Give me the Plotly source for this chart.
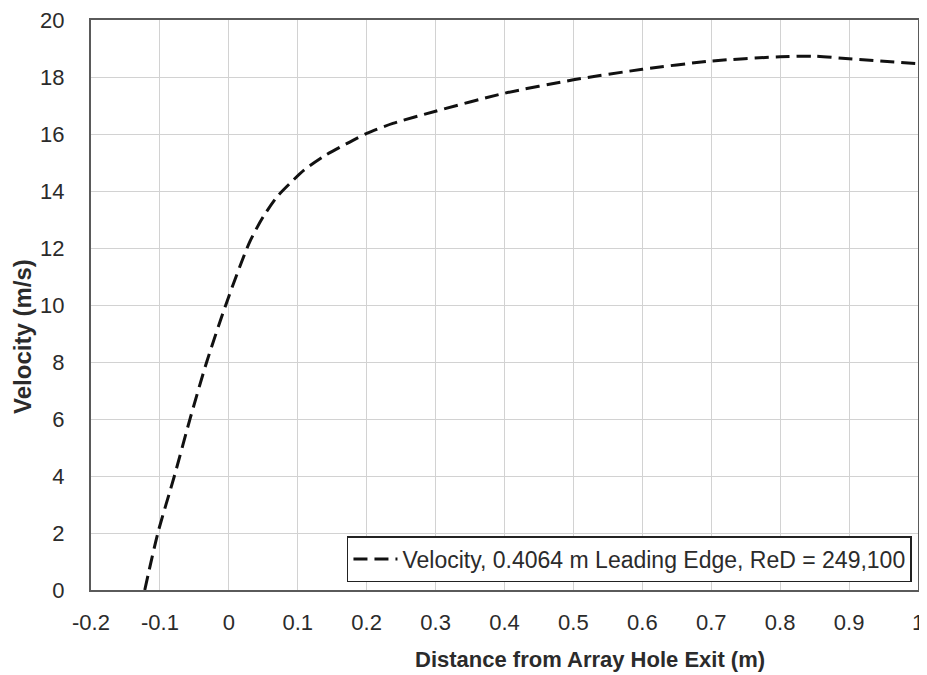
import plotly.graph_objects as go

# Data
distance_m = [-0.122, -0.103, -0.079, -0.056, -0.032, -0.003, 0.03, 0.05, 0.07,
              0.09, 0.11, 0.14, 0.17, 0.20, 0.238, 0.30, 0.40, 0.50,
              0.60, 0.70, 0.80, 0.85, 0.90, 1.00]
velocity_ms = [0.0, 2.0, 4.0, 6.03, 8.01, 10.1, 12.2, 13.1, 13.8,
               14.3, 14.75, 15.25, 15.65, 16.02, 16.37, 16.8, 17.43, 17.9,
               18.27, 18.56, 18.71, 18.73, 18.64, 18.47]
series_name = "Velocity, 0.4064 m Leading Edge, ReD = 249,100"
x_title = "Distance from Array Hole Exit (m)"
y_title = "Velocity (m/s)"

x_ticks = [-0.2, -0.1, 0, 0.1, 0.2, 0.3, 0.4, 0.5, 0.6, 0.7, 0.8, 0.9, 1]
x_labels = ["-0.2", "-0.1", "0", "0.1", "0.2", "0.3", "0.4", "0.5", "0.6", "0.7", "0.8", "0.9", "1"]
y_ticks = [0, 2, 4, 6, 8, 10, 12, 14, 16, 18, 20]

FONT = "Liberation Sans, Arial, sans-serif"
TXT = "#2b2b2b"

fig = go.Figure()
fig.add_trace(go.Scatter(
    x=distance_m, y=velocity_ms, mode="lines", name=series_name,
    line=dict(color="#111111", width=3, dash="14px,7px", shape="spline", smoothing=0.7),
))

fig.update_layout(
    width=927, height=675,
    margin=dict(l=83, r=17, t=12, b=93, autoexpand=False),
    paper_bgcolor="white", plot_bgcolor="white",
    font=dict(family=FONT, size=22, color=TXT),
    showlegend=True,
    legend=dict(
        x=0.9927, y=0.014, xanchor="right", yanchor="bottom",
        bgcolor="white", bordercolor="#222222", borderwidth=1.5,
        font=dict(family=FONT, size=23, color=TXT),
        itemwidth=44,
    ),
    xaxis=dict(
        range=[-0.2, 1], tickmode="array", tickvals=x_ticks, ticktext=x_labels,
        showgrid=True, gridcolor="#d2d2d2", gridwidth=1,
        showline=True, linecolor="#5a5a5a", linewidth=2, mirror=True,
        ticks="", zeroline=False, automargin=False, ticklabelstandoff=12,
        ticklabeloverflow="allow",
        tickfont=dict(family=FONT, size=22, color=TXT),
    ),
    yaxis=dict(
        range=[0, 20], tickmode="array", tickvals=y_ticks,
        showgrid=True, gridcolor="#d2d2d2", gridwidth=1,
        showline=True, linecolor="#5a5a5a", linewidth=2, mirror=True,
        ticks="", zeroline=False, automargin=False, ticklabelstandoff=20,
        ticklabeloverflow="allow",
        tickfont=dict(family=FONT, size=22, color=TXT),
    ),
    annotations=[
        dict(text="<b>" + x_title + "</b>", xref="paper", yref="paper",
             x=0.603, y=-0.1228, xanchor="center", yanchor="middle", showarrow=False,
             font=dict(family=FONT, size=22, color=TXT)),
        dict(text="<b>" + y_title + "</b>", xref="paper", yref="paper",
             x=-0.0822, y=0.444, xanchor="center", yanchor="middle", showarrow=False,
             textangle=-90, font=dict(family=FONT, size=24, color=TXT)),
    ],
)

fig.write_html("out.html")
